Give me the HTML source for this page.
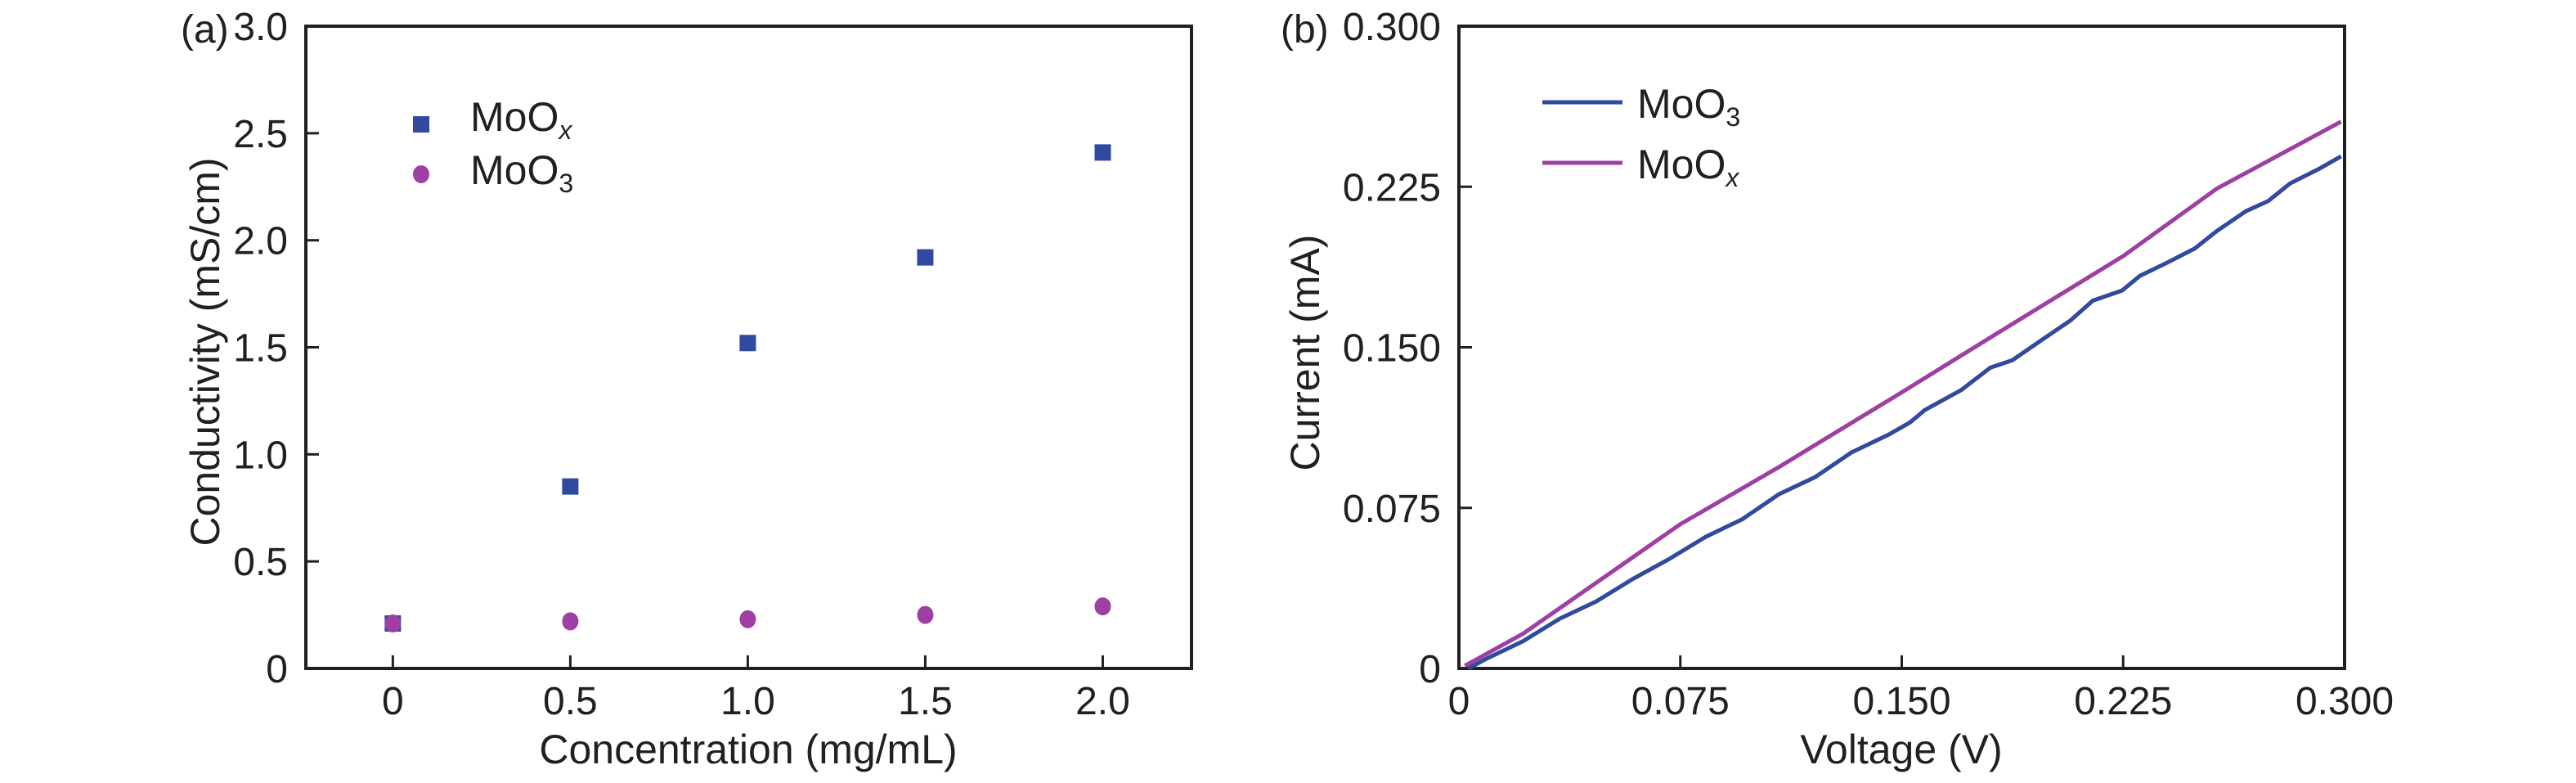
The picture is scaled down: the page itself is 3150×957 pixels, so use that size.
<!DOCTYPE html>
<html><head><meta charset="utf-8"><style>
html,body{margin:0;padding:0;background:#fff;}
svg{display:block;font-family:"Liberation Sans",sans-serif;fill:#231f20;}
</style></head><body>
<svg id="fig" width="3150" height="957" viewBox="0 0 3150 957" xmlns="http://www.w3.org/2000/svg">
<g id="pa"></g>
<g id="pb"></g>
</svg>
<script>
// Panel (a) data
const concCats = [0, 0.5, 1.0, 1.5, 2.0];
const moOxCond = [0.21, 0.85, 1.52, 1.92, 2.41];
const moO3Cond = [0.21, 0.22, 0.23, 0.25, 0.29];
const aXTicks = [0, 0.5, 1.0, 1.5, 2.0];
const aXTickLabels = ["0", "0.5", "1.0", "1.5", "2.0"];
const aYTicks = [0, 0.5, 1.0, 1.5, 2.0, 2.5, 3.0];
const aYTickLabels = ["0", "0.5", "1.0", "1.5", "2.0", "2.5", "3.0"];
// Panel (b) data
const moO3V = [0.0032,0.0094,0.0218,0.0341,0.0465,0.0589,0.0712,0.0836,0.0960,0.1083,0.1207,0.1331,0.1454,0.1528,0.1578,0.1701,0.1800,0.1875,0.1973,0.2072,0.2147,0.2246,0.2307,0.2394,0.2493,0.2567,0.2666,0.2741,0.2815,0.2914,0.2988];
const moO3I = [0,0.0046,0.0128,0.0232,0.0313,0.0418,0.0511,0.0615,0.0697,0.0813,0.0894,0.1010,0.1091,0.1149,0.1207,0.1300,0.1405,0.1440,0.1533,0.1626,0.1718,0.1765,0.1834,0.1892,0.1962,0.2043,0.2136,0.2183,0.2265,0.2334,0.2392];
const moOxV = [0.002, 0.0218, 0.0749, 0.1083, 0.1499, 0.1825, 0.2251, 0.2567, 0.2988];
const moOxI = [0.0012, 0.0163, 0.0673, 0.0940, 0.1289, 0.1567, 0.1927, 0.2241, 0.2554];
const bTicks = [0, 0.075, 0.150, 0.225, 0.300];
const bTickLabels = ["0", "0.075", "0.150", "0.225", "0.300"];

const NS = "http://www.w3.org/2000/svg";
const BLUE = "#2f4a9e", PURPLE = "#9d3fa3";
function mk(parent, tag, attrs, text) {
  const e = document.createElementNS(NS, tag);
  for (const k in attrs) e.setAttribute(k, attrs[k]);
  if (text !== undefined) e.textContent = text;
  parent.appendChild(e);
  return e;
}

// ---------- Panel A ----------
const A = {l:374, r:1457, t:32, b:817, x0:-0.245, x1:2.25, y0:0, y1:3.0};
const ax = v => A.l + (v - A.x0) / (A.x1 - A.x0) * (A.r - A.l);
const ay = v => A.b - (v - A.y0) / (A.y1 - A.y0) * (A.b - A.t);
const pa = document.getElementById('pa');

let el = mk(pa, 'rect', {x:A.l, y:A.t, width:A.r-A.l, height:A.b-A.t, fill:'none', stroke:'#231f20', 'stroke-width':4});



aXTicks.forEach((v, i) => {
  const t = mk(pa, 'line', {x1:ax(v), x2:ax(v), y1:A.b, y2:A.b-16, stroke:'#231f20', 'stroke-width':3});
  
  
  const lb = mk(pa, 'text', {x:ax(v), y:873, 'font-size':48, 'text-anchor':'middle'}, aXTickLabels[i]);
  
  
});
aYTicks.forEach((v, i) => {
  if (i > 0 && i < aYTicks.length - 1) {
    const t = mk(pa, 'line', {x1:A.l, x2:A.l+16, y1:ay(v), y2:ay(v), stroke:'#231f20', 'stroke-width':3});
    
    
  }
  const lb = mk(pa, 'text', {x:352, y:ay(v)+17, 'font-size':48, 'text-anchor':'end'}, aYTickLabels[i]);
  
  
});
el = mk(pa, 'text', {x:221, y:52, 'font-size':48}, '(a)');


el = mk(pa, 'text', {x:915, y:933, 'font-size':50, 'text-anchor':'middle'}, 'Concentration (mg/mL)');


el = mk(pa, 'text', {x:0, y:0, 'font-size':50, 'text-anchor':'middle', transform:'translate(268,430) rotate(-90)'}, 'Conductivity (mS/cm)');



concCats.forEach((c, i) => {
  const s = mk(pa, 'rect', {x:ax(c)-10, y:ay(moOxCond[i])-10, width:20, height:20, fill:BLUE});
  
  
});
concCats.forEach((c, i) => {
  const s = mk(pa, 'ellipse', {cx:ax(c), cy:ay(moO3Cond[i]), rx:10, ry:11, fill:PURPLE});
  
  
});
// legend a
el = mk(pa, 'rect', {x:505, y:142, width:20, height:20, fill:BLUE});


el = mk(pa, 'text', {x:575, y:160, 'font-size':50});


el.innerHTML = 'MoO<tspan font-size="32" font-style="italic" dy="10">x</tspan>';
el = mk(pa, 'ellipse', {cx:515, cy:213, rx:10, ry:11, fill:PURPLE});


el = mk(pa, 'text', {x:575, y:225, 'font-size':50});


el.innerHTML = 'MoO<tspan font-size="32" dy="10">3</tspan>';

// ---------- Panel B ----------
const B = {l:1784, r:2867, t:32, b:817, x0:0, x1:0.3, y0:0, y1:0.3};
const bx = v => B.l + (v - B.x0) / (B.x1 - B.x0) * (B.r - B.l);
const by = v => B.b - (v - B.y0) / (B.y1 - B.y0) * (B.b - B.t);
const pb = document.getElementById('pb');

el = mk(pb, 'rect', {x:B.l, y:B.t, width:B.r-B.l, height:B.b-B.t, fill:'none', stroke:'#231f20', 'stroke-width':4});



bTicks.forEach((v, i) => {
  if (i > 0 && i < bTicks.length - 1) {
    const t = mk(pb, 'line', {x1:bx(v), x2:bx(v), y1:B.b, y2:B.b-16, stroke:'#231f20', 'stroke-width':3});
    
    
    const u = mk(pb, 'line', {x1:B.l, x2:B.l+16, y1:by(v), y2:by(v), stroke:'#231f20', 'stroke-width':3});
    
    
  }
  const lx = mk(pb, 'text', {x:bx(v), y:873, 'font-size':48, 'text-anchor':'middle'}, bTickLabels[i]);
  
  
  const ly = mk(pb, 'text', {x:1762, y:by(v)+17, 'font-size':48, 'text-anchor':'end'}, bTickLabels[i]);
  
  
});
el = mk(pb, 'text', {x:1566, y:52, 'font-size':48}, '(b)');


el = mk(pb, 'text', {x:2325, y:933, 'font-size':50, 'text-anchor':'middle'}, 'Voltage (V)');


el = mk(pb, 'text', {x:0, y:0, 'font-size':50, 'text-anchor':'middle', transform:'translate(1613,431) rotate(-90)'}, 'Current (mA)');



el = mk(pb, 'polyline', {points: moOxV.map((v,i)=>bx(v)+','+by(moOxI[i])).join(' '), fill:'none', stroke:PURPLE, 'stroke-width':5, 'stroke-linejoin':'round'});


el = mk(pb, 'polyline', {points: moO3V.map((v,i)=>bx(v)+','+by(moO3I[i])).join(' '), fill:'none', stroke:BLUE, 'stroke-width':5, 'stroke-linejoin':'round'});



// legend b
el = mk(pb, 'line', {x1:1886, x2:1984, y1:125, y2:125, stroke:BLUE, 'stroke-width':5});


el = mk(pb, 'text', {x:2002, y:144, 'font-size':50});


el.innerHTML = 'MoO<tspan font-size="32" dy="10">3</tspan>';
el = mk(pb, 'line', {x1:1886, x2:1984, y1:199, y2:199, stroke:PURPLE, 'stroke-width':5});


el = mk(pb, 'text', {x:2002, y:218, 'font-size':50});


el.innerHTML = 'MoO<tspan font-size="32" font-style="italic" dy="10">x</tspan>';
</script>
</body></html>
